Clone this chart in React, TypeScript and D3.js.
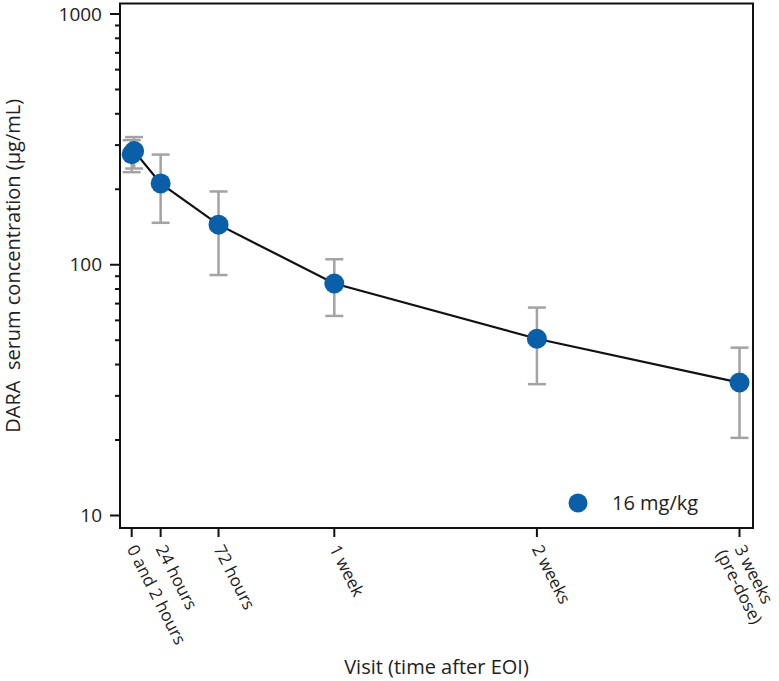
import React from "react";
import * as d3 from "d3";

const visitDays = [0, 2 / 24, 1, 3, 7, 14, 21];
const meanConc = [276, 284, 211, 144.5, 84.2, 50.7, 33.9];
const lowerConc = [234, 242, 147, 91, 62.5, 33.4, 20.4];
const upperConc = [314, 323, 275, 196, 105.2, 67.5, 46.7];

const tickDays = [0, 1, 3, 7, 14, 21];
const tickLabels = [["0 and 2 hours"], ["24 hours"], ["72 hours"], ["1 week"], ["2 weeks"], ["3 weeks", "(pre-dose)"]];
const yMajor = [10, 100, 1000];
const yMinor = [20, 30, 40, 50, 60, 70, 80, 90, 200, 300, 400, 500, 600, 700, 800, 900];
const legendLabel = "16 mg/kg";

const W = 779, H = 681;
const box = { left: 120, right: 753, top: 3.5, bottom: 528 };
const FONT = "'Open Sans', Lato, sans-serif";
const BLUE = "#0a5fa8";
const GRAY = "#a3a3a3";

export default function App() {
  const x = d3.scaleLinear().domain([0, 21]).range([131.7, 739.5]);
  const y = d3.scaleLog().domain([10, 1000]).range([515.5, 14]);
  const pts = visitDays.map((d, i) => ({ d, m: meanConc[i], lo: lowerConc[i], hi: upperConc[i] }));
  const line = d3.line<any>().x((p) => x(p.d)).y((p) => y(p.m));
  const cap = 9;

  return (
    <svg width={W} height={H} style={{ position: "absolute", left: 0, top: 0, background: "#fff" }}>
      {/* box */}
      <rect x={box.left} y={box.top} width={box.right - box.left} height={box.bottom - box.top} fill="none" stroke="#111" strokeWidth={2} />
      {/* y ticks */}
      {yMajor.map((v) => (
        <g key={"M" + v}>
          <line x1={box.left - 10} x2={box.left} y1={y(v)} y2={y(v)} stroke="#111" strokeWidth={2} />
          <text x={box.left - 18} y={y(v)} dy="0.35em" textAnchor="end" fontFamily={FONT} fontSize={19} fill="#222">{v}</text>
        </g>
      ))}
      {yMinor.map((v) => (
        <line key={"m" + v} x1={box.left - 5} x2={box.left} y1={y(v)} y2={y(v)} stroke="#111" strokeWidth={2} />
      ))}
      {/* x ticks */}
      {tickDays.map((d, i) => (
        <g key={"x" + i}>
          <line x1={x(d)} x2={x(d)} y1={box.bottom} y2={box.bottom + 9} stroke="#111" strokeWidth={2} />
          <text transform={`translate(${x(d)},${box.bottom + 18}) rotate(63)`} fontFamily={FONT} fontSize={17} fill="#222">
            {tickLabels[i].map((t, j) => (
              <tspan key={j} x={0} dy={j === 0 ? "0.35em" : "1.1em"} dx={j === 0 ? 0 : -4}>{t}</tspan>
            ))}
          </text>
        </g>
      ))}
      {/* axis titles */}
      <text transform={`translate(20,${(box.top + box.bottom) / 2}) rotate(-90)`} textAnchor="middle" fontFamily={FONT} fontSize={20} fill="#222" style={{ whiteSpace: "pre" }}>
        {"DARA  serum concentration (μg/mL)"}
      </text>
      <text x={(box.left + box.right) / 2} y={674} textAnchor="middle" fontFamily={FONT} fontSize={20} fill="#222">
        Visit (time after EOI)
      </text>
      {/* error bars */}
      {pts.map((p, i) => (
        <g key={"e" + i} stroke={GRAY} strokeWidth={2.5}>
          <line x1={x(p.d)} x2={x(p.d)} y1={y(p.lo)} y2={y(p.hi)} />
          <line x1={x(p.d) - cap} x2={x(p.d) + cap} y1={y(p.lo)} y2={y(p.lo)} />
          <line x1={x(p.d) - cap} x2={x(p.d) + cap} y1={y(p.hi)} y2={y(p.hi)} />
        </g>
      ))}
      <path d={line(pts) || ""} fill="none" stroke="#111" strokeWidth={2.2} />
      {pts.map((p, i) => (
        <circle key={"c" + i} cx={x(p.d)} cy={y(p.m)} r={10} fill={BLUE} />
      ))}
      {/* legend */}
      <circle cx={578} cy={503} r={9.5} fill={BLUE} />
      <text x={612} y={503} dy="0.35em" fontFamily={FONT} fontSize={20} fill="#222">{legendLabel}</text>
    </svg>
  );
}
